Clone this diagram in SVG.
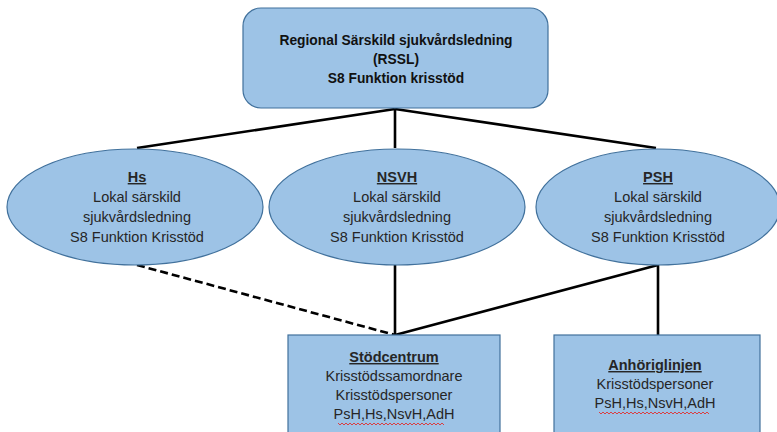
<svg xmlns="http://www.w3.org/2000/svg" width="777" height="432" viewBox="0 0 777 432">
<style>
.shape{fill:#9DC3E6;stroke:#41719C;stroke-width:1.2}
.t{font-family:"Liberation Sans",Arial,sans-serif;font-size:14.5px;fill:#262626;text-anchor:middle}
.b{font-weight:bold}
.u{text-decoration:underline}
.tb{font-family:"Liberation Sans",Arial,sans-serif;font-size:13.8px;font-weight:bold;fill:#111;text-anchor:middle}
.c{stroke:#000;stroke-width:2.6;fill:none}
.d{stroke-dasharray:8 4}
.sq{stroke:#E03030;stroke-width:0.9;fill:none}
</style>
<rect width="777" height="432" fill="#fff"/>
<g id="connectors">
<line class="c" x1="395" y1="109" x2="137" y2="148"/>
<line class="c" x1="395" y1="109" x2="395" y2="148"/>
<line class="c" x1="395" y1="109" x2="656" y2="148"/>
<line class="c d" x1="137" y1="265" x2="395" y2="335"/>
<line class="c" x1="395" y1="265" x2="395" y2="335"/>
<line class="c" x1="658" y1="265" x2="395" y2="335"/>
<line class="c" x1="658" y1="265" x2="658" y2="335"/>
</g>
<g id="rssl">
<rect class="shape" x="243" y="8" width="305" height="100" rx="18"/>
<text class="tb" x="396" y="45">Regional Särskild sjukvårdsledning</text>
<text class="tb" x="396" y="64">(RSSL)</text>
<text class="tb" x="396" y="83">S8 Funktion krisstöd</text>
</g>
<g id="hs">
<ellipse class="shape" cx="135" cy="207" rx="128" ry="58"/>
<text class="t b u" x="137" y="182">Hs</text>
<text class="t" x="137" y="202">Lokal särskild</text>
<text class="t" x="137" y="222">sjukvårdsledning</text>
<text class="t" x="137" y="242">S8 Funktion Krisstöd</text>
</g>
<g id="nsvh">
<ellipse class="shape" cx="397" cy="207" rx="128" ry="58"/>
<text class="t b u" x="397" y="182">NSVH</text>
<text class="t" x="397" y="202">Lokal särskild</text>
<text class="t" x="397" y="222">sjukvårdsledning</text>
<text class="t" x="397" y="242">S8 Funktion Krisstöd</text>
</g>
<g id="psh">
<ellipse class="shape" cx="658" cy="207" rx="122" ry="58"/>
<text class="t b u" x="658" y="182">PSH</text>
<text class="t" x="658" y="202">Lokal särskild</text>
<text class="t" x="658" y="222">sjukvårdsledning</text>
<text class="t" x="658" y="242">S8 Funktion Krisstöd</text>
</g>
<g id="stodcentrum">
<rect class="shape" x="288" y="335" width="212" height="110"/>
<text class="t b u" x="394" y="362">Stödcentrum</text>
<text class="t" x="394" y="381">Krisstödssamordnare</text>
<text class="t" x="394" y="400">Krisstödspersoner</text>
<text class="t" x="394" y="419">PsH,Hs,NsvH,AdH</text>
<path class="sq" d="M338 423 l2 2 l2 -2 l2 2 l2 -2 l2 2 l2 -2 l2 2 l2 -2 l2 2 l2 -2 l2 2 l2 -2 l2 2 l2 -2 l2 2 l2 -2 l2 2 l2 -2 l2 2 l2 -2 l2 2 l2 -2 l2 2 l2 -2 l2 2 l2 -2 l2 2 l2 -2 l2 2 l2 -2 l2 2 l2 -2 l2 2 l2 -2 l2 2 l2 -2 l2 2 l2 -2 l2 2 l2 -2 l2 2 l2 -2 l2 2 l2 -2 l2 2 l2 -2 l2 2 l2 -2 l2 2 l2 -2 l2 2 l2 -2 l2 2"/>
</g>
<g id="anhoriglinjen">
<rect class="shape" x="554" y="335" width="206" height="110"/>
<text class="t b u" x="655" y="370">Anhöriglinjen</text>
<text class="t" x="655" y="389">Krisstödspersoner</text>
<text class="t" x="655" y="408">PsH,Hs,NsvH,AdH</text>
<path class="sq" d="M599 412 l2 2 l2 -2 l2 2 l2 -2 l2 2 l2 -2 l2 2 l2 -2 l2 2 l2 -2 l2 2 l2 -2 l2 2 l2 -2 l2 2 l2 -2 l2 2 l2 -2 l2 2 l2 -2 l2 2 l2 -2 l2 2 l2 -2 l2 2 l2 -2 l2 2 l2 -2 l2 2 l2 -2 l2 2 l2 -2 l2 2 l2 -2 l2 2 l2 -2 l2 2 l2 -2 l2 2 l2 -2 l2 2 l2 -2 l2 2 l2 -2 l2 2 l2 -2 l2 2 l2 -2 l2 2 l2 -2 l2 2 l2 -2 l2 2 l2 -2 l2 2"/>
</g>
</svg>
